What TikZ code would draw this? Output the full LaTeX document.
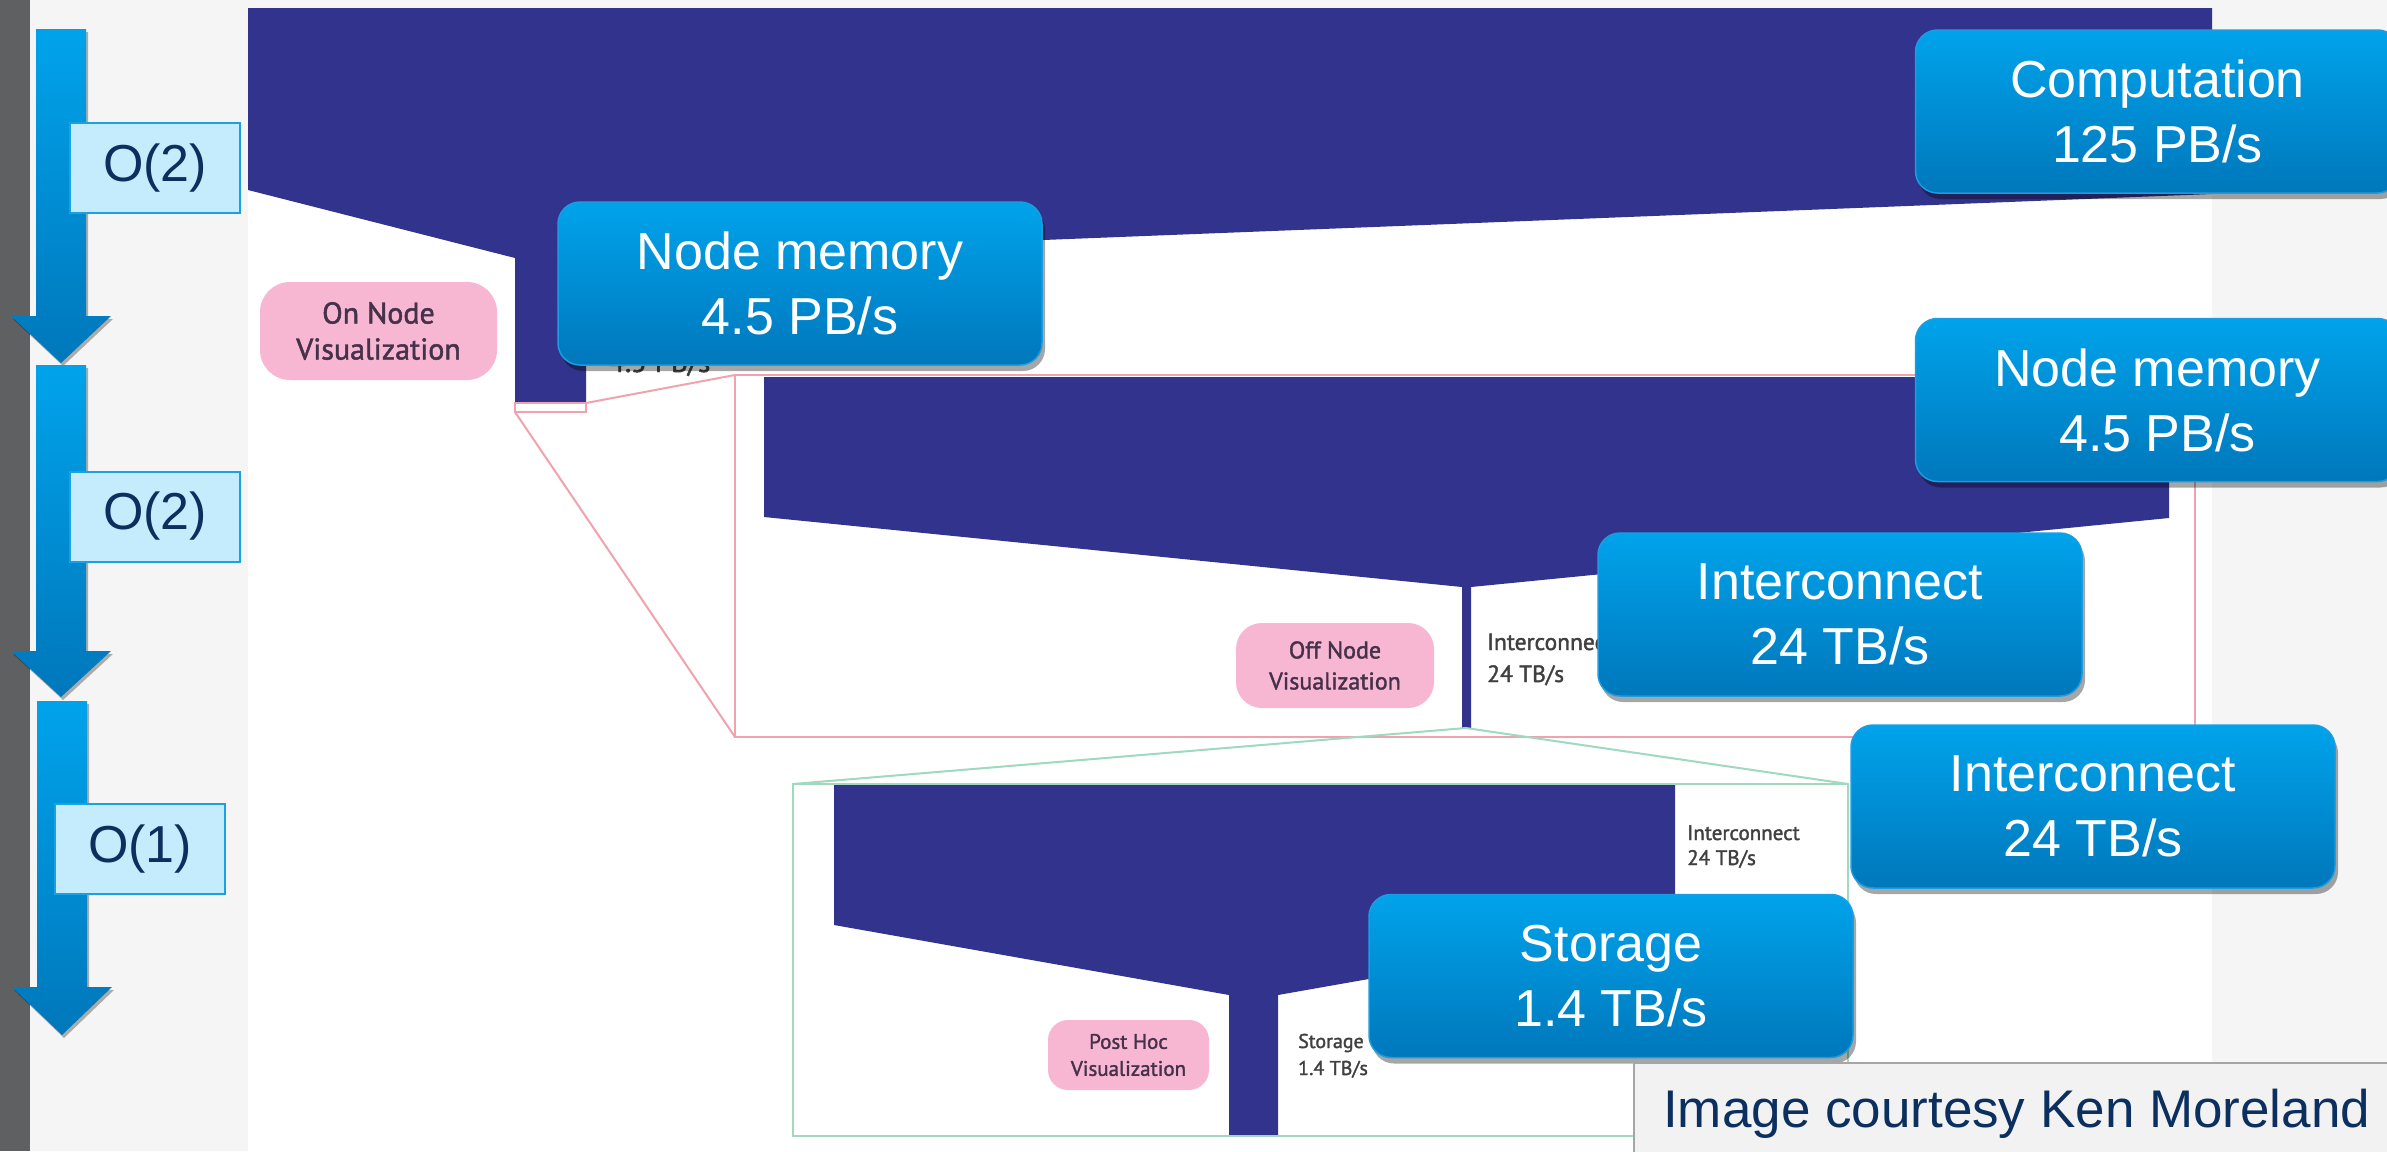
\documentclass[tikz,border=0pt]{standalone}
\usepackage{fontspec}
\setmainfont{Liberation Sans}
\newfontfamily\smallfont[FakeBold=1.6]{PT Sans}
\usetikzlibrary{shadows}
\definecolor{pagebg}{HTML}{F5F5F5}
\definecolor{stripgray}{HTML}{5F6062}
\definecolor{funnelblue}{HTML}{32338D}
\definecolor{calltop}{HTML}{00A3EB}
\definecolor{callbot}{HTML}{0077BB}
\definecolor{callline}{HTML}{1C9DE0}
\definecolor{oboxfill}{HTML}{C4ECFC}
\definecolor{oboxline}{HTML}{1BA1E2}
\definecolor{navytext}{HTML}{0B2F5E}
\definecolor{pinkfill}{HTML}{F7B6D2}
\definecolor{pinkline}{HTML}{F0A3AE}
\definecolor{greenline}{HTML}{9ED9C0}
\definecolor{labeltext}{HTML}{45314A}
\definecolor{graytext}{HTML}{404040}
\definecolor{creditfill}{HTML}{F2F2F2}
\definecolor{creditline}{HTML}{A6A6A6}
\tikzset{
  callout/.style={rounded corners=22pt, top color=calltop, bottom color=callbot,
    draw=callline, line width=1.5pt, text=white, align=center,
    minimum width=484pt, minimum height=163pt, inner sep=0pt,
    font=\fontsize{52}{65}\selectfont,
    drop shadow={shadow xshift=3pt, shadow yshift=-6pt, opacity=0.35, fill=black}},
  obox/.style={fill=oboxfill, draw=oboxline, line width=2pt, text=navytext,
    minimum width=170pt, minimum height=90pt, inner sep=0pt,
    font=\fontsize{52}{60}\selectfont},
  vizlabel/.style={fill=pinkfill, rounded corners=#1, text=labeltext, align=center, inner sep=0pt},
  smalltext/.style={text=graytext, align=left, inner sep=0pt},
  zoomline/.style={line width=2pt},
  arrowshade/.style={top color=calltop, bottom color=callbot,
    drop shadow={shadow xshift=2pt, shadow yshift=-3pt, opacity=0.3, fill=black}}
}
\begin{document}
\begin{tikzpicture}[x=1pt,y=-1pt]
\useasboundingbox (0,0) rectangle (2387,1151);
% background
\fill[pagebg] (0,0) rectangle (2387,1151);
\fill[stripgray] (0,0) rectangle (30,1151);
\fill[white] (248,8) rectangle (2212,1151);

% funnel 1
\fill[funnelblue] (248,8) -- (2212,8) -- (2212,194) -- (586,258) -- (586,402)
  -- (515,402) -- (515,258) -- (248,190) -- cycle;
% funnel 2
\fill[funnelblue] (764,377) -- (2169,377) -- (2169,518) -- (1471,587) -- (1471,728)
  -- (1462,728) -- (1462,587) -- (764,517) -- cycle;
% funnel 3
\fill[funnelblue] (834,785) -- (1675,785) -- (1675,925) -- (1278,995) -- (1278,1135)
  -- (1229,1135) -- (1229,995) -- (834,925) -- cycle;

% zoom frames
\coordinate (s1) at (515,403);
\coordinate (s2) at (586,412);
\coordinate (p1) at (735,375);
\coordinate (p2) at (2195,737);
\coordinate (g0) at (1466,728);
\coordinate (g1) at (793,784);
\coordinate (g2) at (1848,1136);
\draw[pinkline, zoomline] (s1) rectangle (s2);
\draw[pinkline, zoomline] (p1) rectangle (p2);
\draw[pinkline, zoomline] (s2 |- s1) -- (p1);
\draw[pinkline, zoomline] (s1 |- s2) -- (p1 |- p2);
\draw[greenline, zoomline] (g1) rectangle (g2);
\draw[greenline, zoomline] (g0) -- (g1);
\draw[greenline, zoomline] (g0) -- (g2 |- g1);

% pink labels
\node[vizlabel=30pt, minimum width=237pt, minimum height=98pt,
  font=\smallfont\fontsize{30}{36}\selectfont] (onnode) at (378.5,331) {On Node\\Visualization};
\node[vizlabel=26pt, minimum width=198pt, minimum height=85pt,
  font=\smallfont\fontsize{24}{31}\selectfont] (offnode) at (1335,665.5) {Off Node\\Visualization};
\node[vizlabel=20pt, minimum width=161pt, minimum height=70pt,
  font=\smallfont\fontsize{21}{27}\selectfont] (posthoc) at (1128.5,1055) {Post Hoc\\Visualization};

% small texts of the original image
\node[smalltext, anchor=base west, font=\smallfont\fontsize{29}{36}\selectfont] (nmsmall) at (609,372) {4.5 PB/s};
\node[smalltext, anchor=base west, font=\smallfont\fontsize{23.5}{32}\selectfont] (icsmall) at (1487,682) {Interconnect\\24 TB/s};
\node[smalltext, anchor=base west, font=\smallfont\fontsize{20}{27}\selectfont] (stsmall) at (1298,1075) {Storage\\1.4 TB/s};
\node[smalltext, anchor=base west, font=\smallfont\fontsize{21}{25}\selectfont] (icsmallb) at (1687,865) {Interconnect\\24 TB/s};

% left arrows
\shade[arrowshade] (36,29) -- (86,29) -- (86,316) -- (111,316) -- (61,363) -- (11,316) -- (36,316) -- cycle;
\shade[arrowshade] (36,365) -- (86,365) -- (86,651) -- (111,651) -- (61,697) -- (11,651) -- (36,651) -- cycle;
\shade[arrowshade] (37,701) -- (87,701) -- (87,987) -- (112,987) -- (62,1035) -- (12,987) -- (37,987) -- cycle;
\node[obox] (o1) at (155,168) {O(2)};
\node[obox] (o2) at (155,516.5) {O(2)};
\node[obox] (o3) at (140,849) {O(1)};

% callouts
\node[callout] (comp) at (2157.5,111.5) {Computation\\125 PB/s};
\node[callout] (nmleft) at (800,283.5) {Node memory\\4.5 PB/s};
\node[callout] (nmright) at (2157.5,400) {Node memory\\4.5 PB/s};
\node[callout] (ictop) at (1840,614.5) {Interconnect\\24 TB/s};
\node[callout] (icright) at (2093,806.5) {Interconnect\\24 TB/s};
\node[callout] (storage) at (1611,976) {Storage\\1.4 TB/s};

% credit
\draw[fill=creditfill, draw=creditline, line width=2pt] (1634,1063) rectangle (2400,1165);
\node[anchor=base west, inner sep=0pt, text=navytext, font=\fontsize{53}{60}\selectfont] (credit) at (1663,1127) {Image courtesy Ken Moreland};
\end{tikzpicture}
\end{document}
